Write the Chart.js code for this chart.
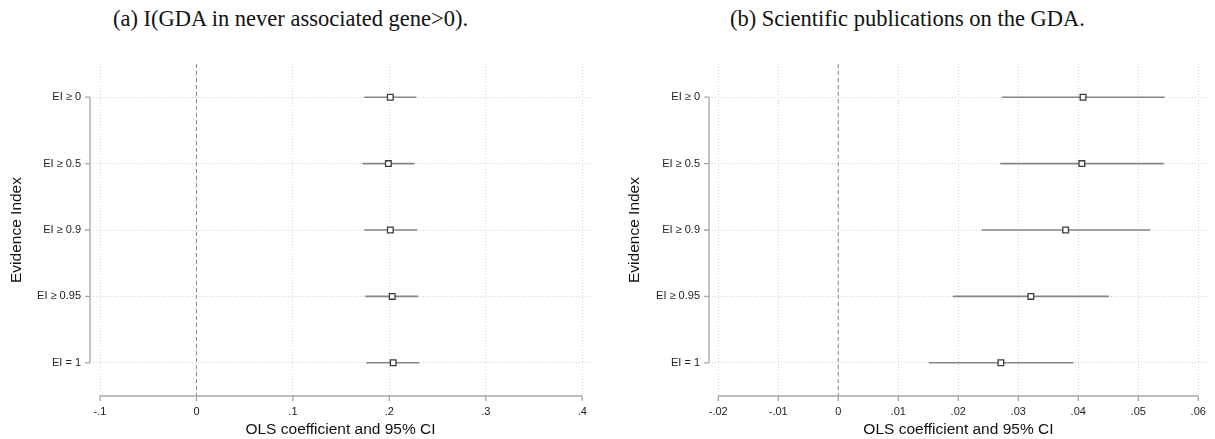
<!DOCTYPE html>
<html>
<head>
<meta charset="utf-8">
<script src="https://cdn.jsdelivr.net/npm/chart.js@4.4.0/dist/chart.umd.min.js"></script>
<style>
  body { margin: 0; background: #fff; width: 1215px; height: 439px; overflow: hidden; position: relative; }
  .panel { position: absolute; top: 0; height: 439px; }
  .ttl { position: absolute; top: 8px; font-family: "Liberation Serif", "DejaVu Serif", serif; font-size: 22.5px; line-height: 22.5px; color: #111; white-space: nowrap; }
</style>
</head>
<body>
<div class="ttl" style="left:113px">(a) I(GDA in never associated gene&gt;0).</div>
<div class="ttl" style="left:730px">(b) Scientific publications on the GDA.</div>
<div class="panel" style="left:0;width:607px"><canvas id="chartA"></canvas></div>
<div class="panel" style="left:607px;width:608px"><canvas id="chartB"></canvas></div>
<script>
// rows, top to bottom
const rowLabels = ["EI \u2265 0", "EI \u2265 0.5", "EI \u2265 0.9", "EI \u2265 0.95", "EI = 1"];

// panel (a): I(GDA in never associated gene>0)
const coefA = [0.201, 0.199, 0.201, 0.203, 0.204];
const loA = [0.174, 0.172, 0.174, 0.175, 0.176];
const hiA = [0.228, 0.226, 0.229, 0.230, 0.231];
const ticksA = [-0.1, 0, 0.1, 0.2, 0.3, 0.4];
const tickLabelsA = ["-.1", "0", ".1", ".2", ".3", ".4"];

// panel (b): scientific publications on the GDA
const coefB = [0.0408, 0.0406, 0.0379, 0.0321, 0.0271];
const loB = [0.0273, 0.0270, 0.0239, 0.0191, 0.0151];
const hiB = [0.0544, 0.0543, 0.0520, 0.0451, 0.0392];
const ticksB = [-0.02, -0.01, 0, 0.01, 0.02, 0.03, 0.04, 0.05, 0.06];
const tickLabelsB = ["-.02", "-.01", "0", ".01", ".02", ".03", ".04", ".05", ".06"];

const sans = "'Liberation Sans', Arial, sans-serif";

// axis lines only between first and last tick, tick marks, dashed zero line
const stataAxes = {
  id: "stataAxes",
  beforeDatasetsDraw(chart) {
    const { ctx, chartArea } = chart;
    const xs = chart.scales.x;
    ctx.save();
    const x0 = xs.getPixelForValue(0);
    ctx.strokeStyle = "#8a8a8a";
    ctx.lineWidth = 1;
    ctx.setLineDash([4, 3]);
    ctx.beginPath();
    ctx.moveTo(x0, chartArea.top);
    ctx.lineTo(x0, chartArea.bottom);
    ctx.stroke();
    ctx.restore();
  },
  afterDraw(chart) {
    const { ctx, chartArea } = chart;
    const xs = chart.scales.x, ys = chart.scales.y;
    ctx.save();
    ctx.strokeStyle = "#a6a6a6";
    ctx.lineWidth = 1.3;
    // x axis
    const xt = xs.ticks.map(t => xs.getPixelForValue(t.value));
    const yb = chartArea.bottom;
    ctx.beginPath();
    ctx.moveTo(xt[0], yb);
    ctx.lineTo(xt[xt.length - 1], yb);
    xt.forEach(p => { ctx.moveTo(p, yb); ctx.lineTo(p, yb + 5); });
    ctx.stroke();
    // y axis
    const yt = rowLabels.map((l, i) => ys.getPixelForValue(i));
    const xl = chartArea.left;
    ctx.beginPath();
    ctx.moveTo(xl, yt[0]);
    ctx.lineTo(xl, yt[yt.length - 1]);
    yt.forEach(p => { ctx.moveTo(xl, p); ctx.lineTo(xl - 5, p); });
    ctx.stroke();
    ctx.restore();
  }
};

function makeChart(id, coef, lo, hi, ticks, tickLabels, xMin, xMax, yWidth, padRight, titlePad) {
  const datasets = [];
  // confidence intervals, one short line per row
  rowLabels.forEach((lab, i) => {
    datasets.push({
      type: "line",
      data: [{ x: lo[i], y: lab }, { x: hi[i], y: lab }],
      borderColor: "#858585",
      borderWidth: 1.6,
      pointRadius: 0,
      fill: false,
      order: 2
    });
  });
  // point estimates
  datasets.push({
    type: "scatter",
    data: rowLabels.map((lab, i) => ({ x: coef[i], y: lab })),
    pointStyle: "rect",
    pointRadius: 4,
    pointBackgroundColor: "#ffffff",
    pointBorderColor: "#3c3c3c",
    pointBorderWidth: 1.3,
    order: 1
  });

  return new Chart(document.getElementById(id), {
    type: "scatter",
    data: { labels: rowLabels, datasets: datasets },
    options: {
      responsive: true,
      maintainAspectRatio: false,
      animation: false,
      layout: { padding: { top: 64, right: padRight, bottom: 0, left: 0 } },
      plugins: { legend: { display: false }, tooltip: { enabled: false } },
      scales: {
        x: {
          type: "linear",
          min: xMin,
          max: xMax,
          afterBuildTicks: s => { s.ticks = ticks.map(v => ({ value: v })); },
          afterFit: s => { s.height = 43; },
          border: { display: false, dash: [1, 2] },
          grid: { color: "#d4d4d4", lineWidth: 1, drawTicks: false },
          ticks: {
            padding: 9,
            maxRotation: 0,
            autoSkip: false,
            color: "#222",
            font: { family: sans, size: 11 },
            callback: (v, i) => tickLabels[i]
          },
          title: {
            display: true,
            text: "OLS coefficient and 95% CI",
            color: "#111",
            font: { family: sans, size: 15.5 },
            padding: { top: 0, bottom: 0 }
          }
        },
        y: {
          type: "category",
          labels: rowLabels,
          offset: true,
          afterFit: s => { s.width = yWidth; },
          border: { display: false, dash: [1, 2] },
          grid: { offset: false, color: "#d4d4d4", lineWidth: 1, drawTicks: false },
          ticks: {
            padding: 9,
            color: "#222",
            font: { family: sans, size: 11 }
          },
          title: {
            display: true,
            text: "Evidence Index",
            color: "#111",
            font: { family: sans, size: 15.5 },
            padding: { top: titlePad, bottom: 0 }
          }
        }
      }
    },
    plugins: [stataAxes]
  });
}

makeChart("chartA", coefA, loA, hiA, ticksA, tickLabelsA, -0.1104, 0.4091, 90, 16, 7.5);
makeChart("chartB", coefB, loB, hiB, ticksB, tickLabelsB, -0.02154, 0.0616, 102, 5, 18.5);
</script>
</body>
</html>
